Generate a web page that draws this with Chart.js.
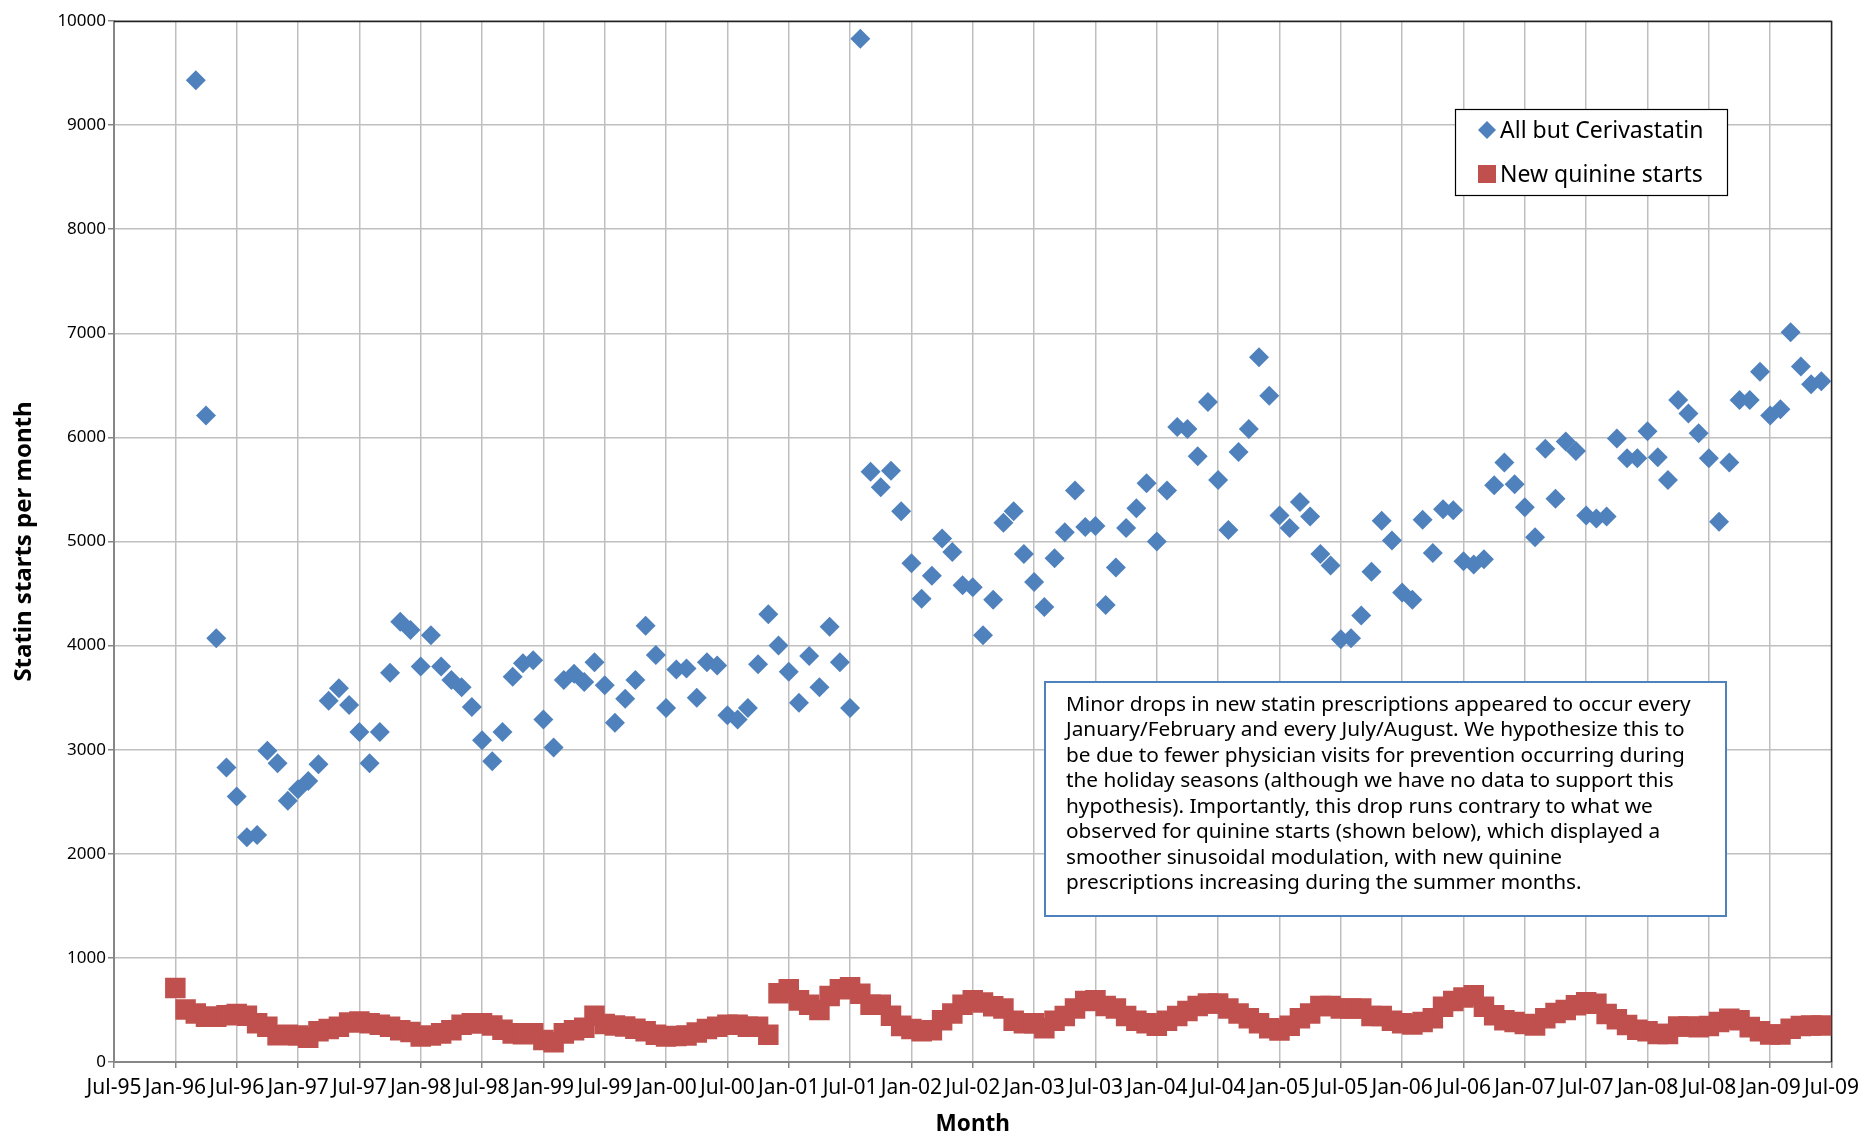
<!DOCTYPE html>
<html>
<head>
<meta charset="utf-8">
<script src="https://cdn.jsdelivr.net/npm/chart.js@4.4.1/dist/chart.umd.min.js"></script>
<style>
  html, body { margin: 0; padding: 0; background: #fff; }
  #wrap { width: 1866px; height: 1136px; }
</style>
</head>
<body>
<div id="wrap"><canvas id="statinChart" width="1866" height="1136"></canvas></div>
<script>
// x axis: months counted from Jan-96 (= 0)
const xTickLabels = ['Jul-95', 'Jan-96', 'Jul-96', 'Jan-97', 'Jul-97', 'Jan-98', 'Jul-98', 'Jan-99',
  'Jul-99', 'Jan-00', 'Jul-00', 'Jan-01', 'Jul-01', 'Jan-02', 'Jul-02', 'Jan-03', 'Jul-03', 'Jan-04',
  'Jul-04', 'Jan-05', 'Jul-05', 'Jan-06', 'Jul-06', 'Jan-07', 'Jul-07', 'Jan-08', 'Jul-08', 'Jan-09', 'Jul-09'];

// All but Cerivastatin, monthly from Mar-96
const statinStart = 2;
const statinStarts = [
  9430, 6210, 4070, 2830, 2550, 2160, 2180, 2990, 2870, 2510,
  2620, 2700, 2860, 3470, 3590, 3430, 3170, 2870, 3170, 3740, 4230, 4150,
  3800, 4100, 3800, 3670, 3600, 3410, 3090, 2890, 3170, 3700, 3830, 3860,
  3290, 3020, 3670, 3730, 3650, 3840, 3620, 3260, 3490, 3670, 4190, 3910,
  3400, 3770, 3780, 3500, 3840, 3810, 3330, 3290, 3400, 3820, 4300, 4000,
  3750, 3450, 3900, 3600, 4180, 3840, 3400, 9830, 5670, 5520, 5680, 5290,
  4790, 4450, 4670, 5030, 4900, 4580, 4560, 4100, 4440, 5180, 5290, 4880,
  4610, 4370, 4840, 5090, 5490, 5140, 5150, 4390, 4750, 5130, 5320, 5560,
  5000, 5490, 6100, 6080, 5820, 6340, 5590, 5110, 5860, 6080, 6770, 6400,
  5250, 5130, 5380, 5240, 4880, 4770, 4060, 4070, 4290, 4710, 5200, 5010,
  4510, 4440, 5210, 4890, 5310, 5300, 4810, 4780, 4830, 5540, 5760, 5550,
  5330, 5040, 5890, 5410, 5960, 5870, 5250, 5220, 5240, 5990, 5800, 5800,
  6060, 5810, 5590, 6360, 6230, 6040, 5800, 5190, 5760, 6360, 6360, 6630,
  6210, 6270, 7010, 6680, 6510, 6540
];

// New quinine starts, monthly from Jan-96
const quinineStart = 0;
const quinineStarts = [
  710, 505, 465, 435, 435, 450, 460, 445, 372, 338, 256, 262,
  254, 232, 296, 317, 338, 380, 389, 372, 359, 338, 304, 288,
  245, 254, 275, 304, 359, 372, 372, 351, 309, 275, 266, 275,
  211, 190, 275, 305, 330, 444, 365, 350, 340, 320, 296, 262,
  245, 250, 254, 283, 317, 338, 359, 359, 338, 338, 262, 660,
  698, 592, 550, 499, 634, 698, 719, 655, 550, 550, 444, 347,
  317, 296, 304, 402, 465, 550, 592, 571, 535, 514, 396, 373,
  373, 325, 396, 443, 514, 585, 594, 538, 514, 443, 396, 373,
  349, 396, 443, 491, 538, 561, 561, 514, 467, 420, 373, 325,
  302, 349, 420, 467, 538, 538, 514, 514, 514, 443, 443, 396,
  373, 360, 385, 420, 530, 585, 620, 640, 530, 450, 400, 385,
  365, 350, 420, 470, 500, 545, 575, 560, 460, 410, 355, 310,
  295, 270, 270, 340, 340, 335, 345, 385, 415, 400, 335, 295,
  265, 265, 320, 345, 350, 350
];

const noteLines = [
  'Minor drops in new statin prescriptions appeared to occur every',
  'January/February and every July/August. We hypothesize this to',
  'be due to fewer physician visits for prevention occurring during',
  'the holiday seasons (although we have no data to support this',
  'hypothesis). Importantly, this drop runs contrary to what we',
  'observed for quinine starts (shown below), which displayed a',
  'smoother sinusoidal modulation, with new quinine',
  'prescriptions increasing during the summer months.'
];

const fontFamily = '"Noto Sans", "Open Sans", sans-serif';
const blue = '#4F81BD';
const red = '#C0504D';

const statinPoints = statinStarts.map((v, i) => ({ x: statinStart + i, y: v }));
const quininePoints = quinineStarts.map((v, i) => ({ x: quinineStart + i, y: v }));

// plot frame, legend and note box
const boxesPlugin = {
  id: 'boxes',
  beforeDatasetsDraw(chart) {
    const { ctx, chartArea: a } = chart;
    ctx.save();
    ctx.strokeStyle = '#222';
    ctx.lineWidth = 1.5;
    ctx.beginPath();
    ctx.moveTo(a.left, a.top + 0.5);
    ctx.lineTo(a.right, a.top + 0.5);
    ctx.lineTo(a.right, a.bottom);
    ctx.stroke();
    ctx.restore();
  },
  afterDatasetsDraw(chart) {
    const ctx = chart.ctx;
    const ds = chart.data.datasets;
    ctx.save();

    // legend
    ctx.fillStyle = '#fff';
    ctx.fillRect(1455, 109, 272, 86);
    ctx.strokeStyle = '#000';
    ctx.lineWidth = 1.2;
    ctx.strokeRect(1455.5, 109.5, 272, 86);
    ctx.fillStyle = blue;
    ctx.beginPath();
    ctx.moveTo(1478, 130); ctx.lineTo(1487, 121); ctx.lineTo(1496, 130); ctx.lineTo(1487, 139);
    ctx.closePath();
    ctx.fill();
    ctx.fillStyle = red;
    ctx.fillRect(1478, 165, 18, 18);
    ctx.fillStyle = '#000';
    ctx.font = '23px ' + fontFamily;
    ctx.textBaseline = 'middle';
    ctx.textAlign = 'left';
    ctx.fillText(ds[0].label, 1500, 131);
    ctx.fillText(ds[1].label, 1500, 175);

    // note
    ctx.fillStyle = '#fff';
    ctx.fillRect(1045, 682, 681, 234);
    ctx.strokeStyle = blue;
    ctx.lineWidth = 2;
    ctx.strokeRect(1045, 682, 681, 234);
    ctx.fillStyle = '#000';
    ctx.font = '20.8px ' + fontFamily;
    noteLines.forEach((line, i) => {
      ctx.fillText(line, 1066, 705 + i * 25.5);
    });
    ctx.restore();
  }
};

const ctx = document.getElementById('statinChart').getContext('2d');
const statinChart = new Chart(ctx, {
  type: 'scatter',
  data: {
    datasets: [{
      label: 'All but Cerivastatin',
      data: statinPoints,
      pointStyle: 'rectRot',
      pointRadius: 10,
      pointHoverRadius: 10,
      backgroundColor: blue,
      borderColor: blue,
      borderWidth: 0
    }, {
      label: 'New quinine starts',
      data: quininePoints,
      pointStyle: 'rect',
      pointRadius: 14.5,
      pointHoverRadius: 14.5,
      backgroundColor: red,
      borderColor: red,
      borderWidth: 0
    }]
  },
  options: {
    responsive: false,
    animation: false,
    events: [],
    layout: {
      padding: { top: 21, right: 32, left: 0, bottom: 0 }
    },
    plugins: {
      legend: { display: false },
      tooltip: { enabled: false }
    },
    scales: {
      x: {
        type: 'linear',
        min: -6,
        max: 162,
        afterFit: function (scale) {
          scale.height = 74;
        },
        ticks: {
          stepSize: 6,
          autoSkip: false,
          maxRotation: 0,
          minRotation: 0,
          padding: 7,
          color: '#000',
          font: { family: fontFamily, size: 21 },
          callback: function (value) {
            return xTickLabels[Math.round((value + 6) / 6)];
          }
        },
        grid: {
          color: '#BFBFBF',
          lineWidth: 1.5,
          tickLength: 6,
          tickColor: '#868686'
        },
        border: { color: '#868686', width: 2 },
        title: {
          display: true,
          text: 'Month',
          color: '#000',
          font: { family: fontFamily, size: 22.5, weight: 'bold', lineHeight: 1 },
          padding: { top: 0, bottom: 0 }
        }
      },
      y: {
        min: 0,
        max: 10000,
        afterFit: function (scale) {
          scale.width = 114;
        },
        ticks: {
          stepSize: 1000,
          padding: 2,
          color: '#000',
          font: { family: fontFamily, size: 17 },
          callback: function (value) {
            return String(value);
          }
        },
        grid: {
          color: '#BFBFBF',
          lineWidth: 1.5,
          tickLength: 6,
          tickColor: '#868686'
        },
        border: { color: '#868686', width: 2 },
        title: {
          display: true,
          text: 'Statin starts per month',
          color: '#000',
          font: { family: fontFamily, size: 24, weight: 'bold', lineHeight: 1 },
          padding: { top: 12, bottom: 0 }
        }
      }
    }
  },
  plugins: [boxesPlugin]
});
</script>
</body>
</html>
